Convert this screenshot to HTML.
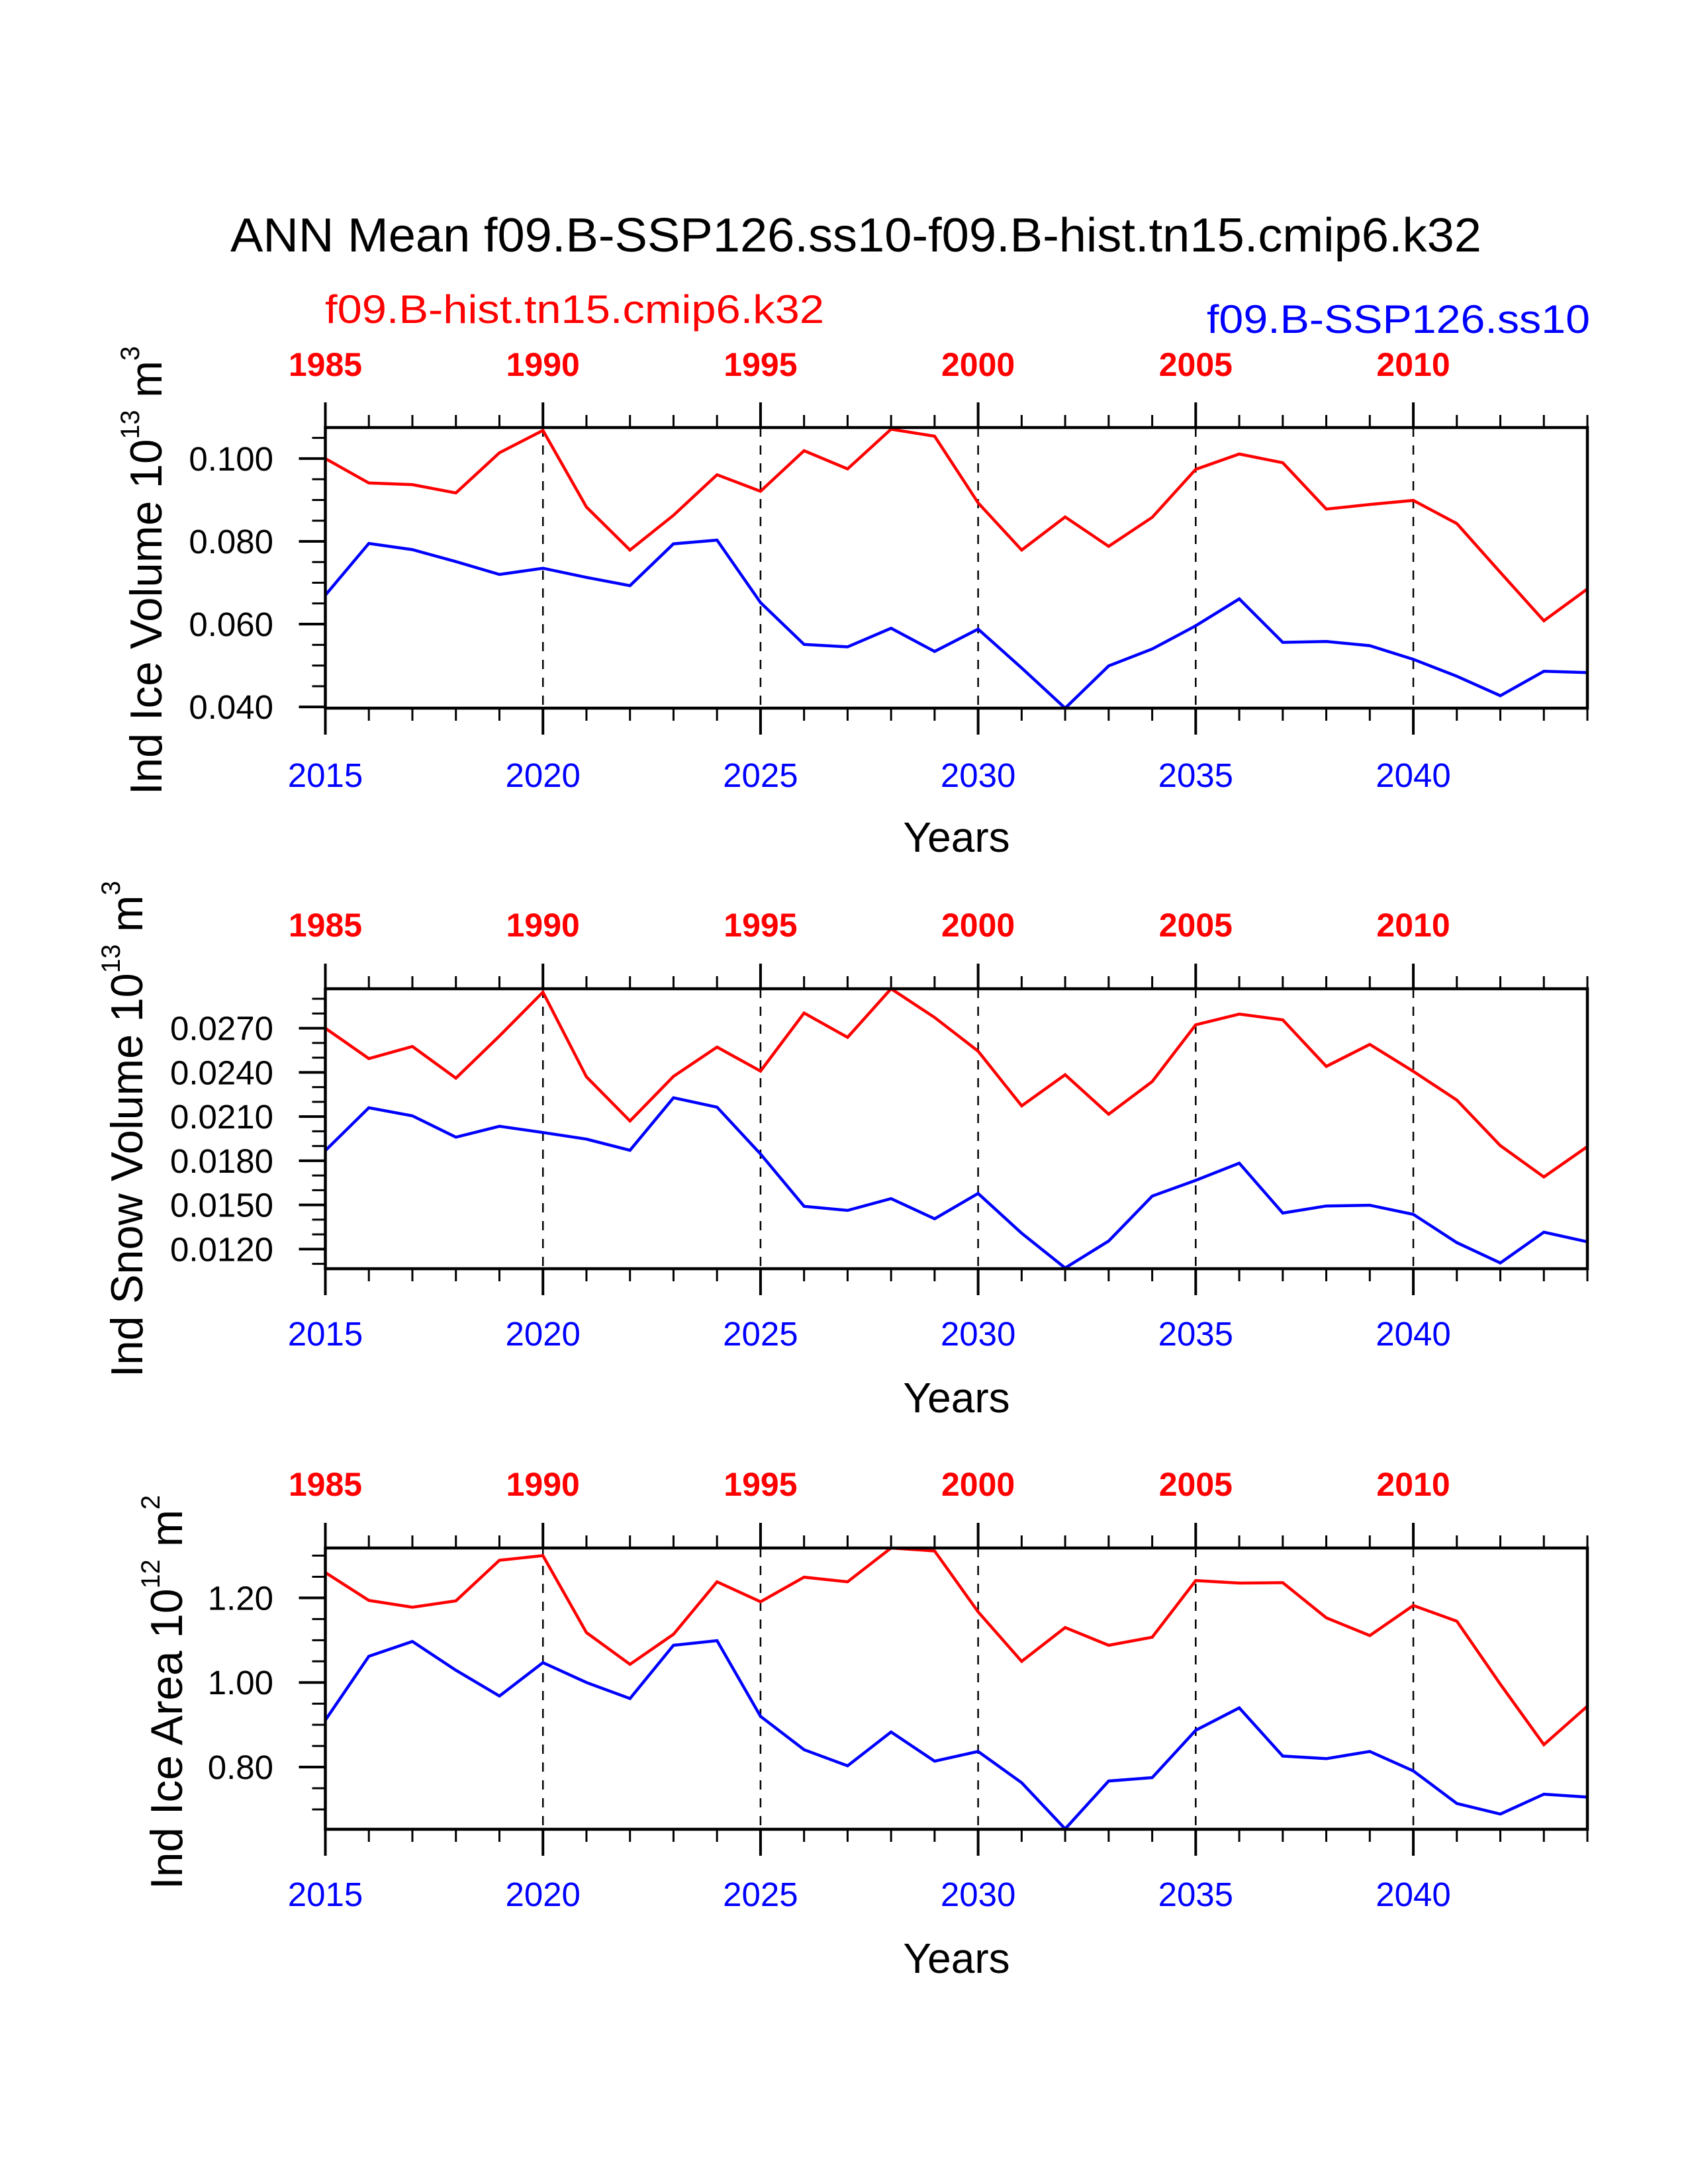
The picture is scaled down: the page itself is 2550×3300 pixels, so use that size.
<!DOCTYPE html>
<html><head><meta charset="utf-8">
<style>html,body{margin:0;padding:0;background:#fff;}svg{display:block;}</style>
</head><body>
<svg id="chart" xmlns="http://www.w3.org/2000/svg" width="2550" height="3300" viewBox="0 0 2550 3300" font-family="Liberation Sans, Arial, sans-serif">
<rect width="2550" height="3300" fill="#fff"/>
<text x="1293" y="380" font-size="72" text-anchor="middle" textLength="1890" lengthAdjust="spacingAndGlyphs">ANN Mean f09.B-SSP126.ss10-f09.B-hist.tn15.cmip6.k32</text>
<text x="491" y="488" font-size="60" fill="#ff0000" textLength="754" lengthAdjust="spacingAndGlyphs">f09.B-hist.tn15.cmip6.k32</text>
<text x="2402" y="503" font-size="60" fill="#0000ff" text-anchor="end" textLength="579" lengthAdjust="spacingAndGlyphs">f09.B-SSP126.ss10</text>
</svg>
<script>
// ---- data ----
const years = [2015,2016,2017,2018,2019,2020,2021,2022,2023,2024,2025,2026,2027,2028,2029,2030,2031,2032,2033,2034,2035,2036,2037,2038,2039,2040,2041,2042,2043,2044];
const topTickLabels = ["1985","1990","1995","2000","2005","2010"];
const bottomTickLabels = ["2015","2020","2025","2030","2035","2040"];
const iceVolHist = [0.1000,0.0941,0.0937,0.0917,0.1014,0.1068,0.0883,0.0779,0.0863,0.0961,0.0921,0.1019,0.0975,0.1071,0.1054,0.0893,0.0779,0.0859,0.0788,0.0858,0.0974,0.1011,0.0990,0.0878,0.0889,0.0899,0.0843,0.0725,0.0608,0.0685];
const iceVolSsp = [0.0670,0.0795,0.0780,0.0751,0.0720,0.0735,0.0713,0.0693,0.0794,0.0803,0.0652,0.0551,0.0545,0.0590,0.0534,0.0588,0.0494,0.0397,0.0499,0.0540,0.0596,0.0661,0.0556,0.0558,0.0548,0.0515,0.0474,0.0427,0.0486,0.0483];
const iceVolTicks = [0.040,0.060,0.080,0.100];
const iceVolTickLabels = ["0.040","0.060","0.080","0.100"];
const snowVolHist = [0.02700,0.02494,0.02576,0.02361,0.02647,0.02945,0.02370,0.02070,0.02373,0.02572,0.02409,0.02803,0.02638,0.02968,0.02773,0.02544,0.02173,0.02384,0.02116,0.02338,0.02723,0.02796,0.02757,0.02441,0.02590,0.02407,0.02212,0.01903,0.01690,0.01896];
const snowVolSsp = [0.01869,0.02160,0.02105,0.01960,0.02034,0.01992,0.01947,0.01871,0.02228,0.02164,0.01846,0.01491,0.01463,0.01543,0.01406,0.01578,0.01308,0.01072,0.01255,0.01560,0.01667,0.01784,0.01445,0.01493,0.01498,0.01436,0.01244,0.01106,0.01315,0.01250];
const snowVolTicks = [0.012,0.015,0.018,0.021,0.024,0.027];
const snowVolTickLabels = ["0.0120","0.0150","0.0180","0.0210","0.0240","0.0270"];
const iceAreaHist = [1.260,1.194,1.178,1.193,1.289,1.300,1.118,1.043,1.114,1.238,1.191,1.249,1.238,1.318,1.311,1.167,1.050,1.130,1.088,1.107,1.241,1.235,1.236,1.153,1.111,1.182,1.145,0.996,0.853,0.944];
const iceAreaSsp = [0.911,1.062,1.097,1.029,0.968,1.047,1.000,0.962,1.088,1.099,0.920,0.841,0.803,0.883,0.814,0.837,0.763,0.654,0.767,0.775,0.887,0.940,0.826,0.820,0.837,0.791,0.714,0.689,0.736,0.729];
const iceAreaTicks = [0.80,1.00,1.20];
const iceAreaTickLabels = ["0.80","1.00","1.20"];

const NS = "http://www.w3.org/2000/svg";
const svg = document.getElementById('chart');
function mk(tag, attrs, parent){const e=document.createElementNS(NS,tag);for(const k in attrs)e.setAttribute(k,attrs[k]);(parent||svg).appendChild(e);return e;}

const X0=491.5, X1=2398;
function xs(yr){return X0+(yr-2015)*(X1-X0)/29;}

function panel(p){
  const g=mk('g',{});
  
  
  const ys=v=>p.bot-(v-p.ymin)*(p.bot-p.top)/(p.ymax-p.ymin);
  // dashed verticals
  for(let yr=2020;yr<=2040;yr+=5){
    const l=mk('line',{x1:xs(yr),x2:xs(yr),y1:p.top,y2:p.bot,stroke:'#000','stroke-width':2.5,'stroke-dasharray':'14,13'},g);
    
    
  }
  // x ticks
  for(let yr=2015;yr<=2044;yr++){
    const maj=(yr%5===0);
    const lt=maj?38:19, lb=maj?40:19, w=maj?4:3;
    mk('line',{x1:xs(yr),x2:xs(yr),y1:p.top-lt,y2:p.top,stroke:'#000','stroke-width':w},g);
    mk('line',{x1:xs(yr),x2:xs(yr),y1:p.bot,y2:p.bot+lb,stroke:'#000','stroke-width':w},g);
  }
  topTickLabels.forEach((lab,i)=>{
    const t=mk('text',{x:xs(2015+5*i),y:p.topLab+18,'font-size':50,'font-weight':'bold',fill:'#ff0000','text-anchor':'middle'},g);
    t.textContent=lab;
    
    
  });
  bottomTickLabels.forEach((lab,i)=>{
    const t=mk('text',{x:xs(2015+5*i),y:p.botLab+18,'font-size':51,fill:'#0000ff','text-anchor':'middle'},g);
    t.textContent=lab;
    
    
  });
  // y minor ticks
  const start=Math.ceil((p.ymin-1e-9)/p.minor);
  for(let k=start;k*p.minor<=p.ymax+1e-9;k++){
    const v=k*p.minor;const y=ys(v);
    mk('line',{x1:X0-20,x2:X0,y1:y,y2:y,stroke:'#000','stroke-width':3},g);
  }
  p.ticks.forEach((v,i)=>{
    const y=ys(v);
    mk('line',{x1:X0-40,x2:X0,y1:y,y2:y,stroke:'#000','stroke-width':4},g);
    const t=mk('text',{x:413,y:y+18,'font-size':51,'text-anchor':'end'},g);
    t.textContent=p.tickLabels[i];
    
    
  });
  // series
  [[p.hist,'#ff0000','hist'],[p.ssp,'#0000ff','ssp126']].forEach(([arr,col,nm])=>{
    const pts=arr.map((v,i)=>xs(years[i]).toFixed(1)+','+ys(v).toFixed(1)).join(' ');
    const pl=mk('polyline',{points:pts,fill:'none',stroke:col,'stroke-width':4.5,'stroke-linejoin':'miter'},g);
    
    
  });
  // box
  const r=mk('rect',{x:X0,y:p.top,width:X1-X0,height:p.bot-p.top,fill:'none',stroke:'#000','stroke-width':4.5},g);
  
  
  // x title
  const xt=mk('text',{x:1445,y:p.yearsY+23,'font-size':64,'text-anchor':'middle'},g);
  xt.textContent='Years';
  
  
  // y title
  const yt=mk('text',{transform:'translate('+p.ytX+','+p.ytBot+') rotate(-90)','font-size':68,textLength:p.ytBot-p.ytTop,lengthAdjust:'spacingAndGlyphs'},g);
  
  
  const s1=mk('tspan',{},yt); s1.textContent=p.ytMain+' 10';
  const s2=mk('tspan',{dy:-34,'font-size':40},yt); s2.textContent=p.exp;
  const s3=mk('tspan',{dy:34},yt); s3.textContent=' m';
  const s4=mk('tspan',{dy:-34,'font-size':40},yt); s4.textContent=p.unitExp;
}

panel({name:'panel-ice-volume',top:646,bot:1070,ymin:0.0397,ymax:0.1075,minor:0.005,ticks:iceVolTicks,tickLabels:iceVolTickLabels,hist:iceVolHist,ssp:iceVolSsp,topLab:550,botLab:1171,yearsY:1264,ytX:244,ytTop:523,ytBot:1201,ytMain:'Ind Ice Volume',exp:'13',unitExp:'3'});
panel({name:'panel-snow-volume',top:1494,bot:1917,ymin:0.01067,ymax:0.02968,minor:0.001,ticks:snowVolTicks,tickLabels:snowVolTickLabels,hist:snowVolHist,ssp:snowVolSsp,topLab:1397,botLab:2015,yearsY:2111,ytX:215,ytTop:1331,ytBot:2081,ytMain:'Ind Snow Volume',exp:'13',unitExp:'3'});
panel({name:'panel-ice-area',top:2339,bot:2764,ymin:0.653,ymax:1.318,minor:0.05,ticks:iceAreaTicks,tickLabels:iceAreaTickLabels,hist:iceAreaHist,ssp:iceAreaSsp,topLab:2242,botLab:2862,yearsY:2958,ytX:275,ytTop:2259,ytBot:2855,ytMain:'Ind Ice Area',exp:'12',unitExp:'2'});
</script>
</body></html>
